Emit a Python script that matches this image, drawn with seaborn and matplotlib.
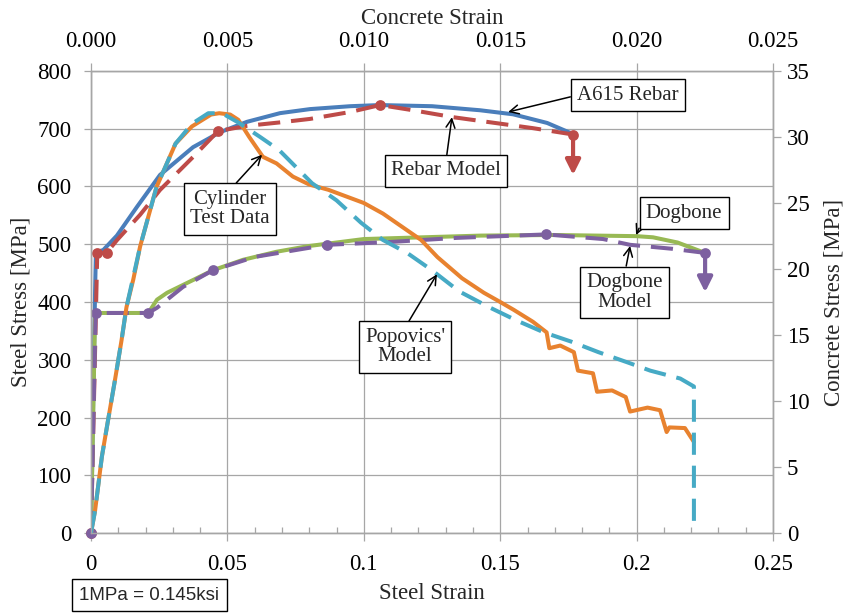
import matplotlib
matplotlib.use("Agg")
import matplotlib.pyplot as plt
import seaborn as sns
from matplotlib.ticker import MultipleLocator, FuncFormatter

# ---- steel data (bottom / left axes) ----
rebar_strain = [0, 0.0015, 0.0018, 0.0045, 0.0095, 0.0169, 0.0253, 0.0374, 0.0473, 0.0572,
                0.0693, 0.0803, 0.0950, 0.1059, 0.1250, 0.1426, 0.1547, 0.1672, 0.1756]
rebar_stress = [0, 420, 486, 490, 515, 565, 620, 668, 694, 712,
                727, 734, 739, 741, 739, 732, 725, 710, 693]

rebar_model_strain = [0, 0.0023, 0.0057, 0.0095, 0.018, 0.0253, 0.0374, 0.0466, 0.0572, 0.0693,
                      0.0803, 0.095, 0.1060, 0.118, 0.1327, 0.145, 0.162, 0.1767]
rebar_model_stress = [0, 485, 485, 507, 551, 594, 651, 696, 705, 711,
                      717, 729, 741, 732, 720, 712, 701, 690]
rebar_model_marks = [0, 1, 2, 7, 12, 17]

dogbone_strain = [0, 0.0015, 0.021, 0.0242, 0.0279, 0.0374, 0.0447, 0.0557, 0.068, 0.080,
                  0.100, 0.143, 0.170, 0.200, 0.206, 0.215, 0.2245]
dogbone_stress = [0, 381, 381, 404, 416, 438, 455, 473, 487, 497,
                  509, 515, 516, 514, 512, 503, 486]

dogbone_model_strain = [0, 0.0017, 0.021, 0.0242, 0.0337, 0.0447, 0.060, 0.0865, 0.110, 0.134,
                        0.1668, 0.1877, 0.1976, 0.2133, 0.2251]
dogbone_model_stress = [0, 381, 381, 390, 426, 455, 478, 499, 504, 511,
                        517, 509, 499, 492, 485]
dogbone_model_marks = [0, 1, 2, 5, 7, 10, 14]

# ---- concrete data (top / right axes) ----
cyl_strain = [0, 0.00015, 0.0004, 0.00063, 0.00088, 0.00112, 0.0013, 0.00155, 0.0018, 0.0024,
              0.0031, 0.0037, 0.0044, 0.0047, 0.0051, 0.0054, 0.0058, 0.0063, 0.0068, 0.0074,
              0.0080, 0.0087, 0.0100, 0.0107, 0.0114, 0.0121, 0.0127, 0.0136, 0.0144, 0.0150,
              0.0155, 0.0162, 0.0167, 0.0168, 0.0172, 0.0177, 0.01785, 0.0184, 0.01855, 0.0191,
              0.0196, 0.01976, 0.0204, 0.02086, 0.0211, 0.0212, 0.02177, 0.0221]
cyl_stress = [0, 1.7, 5.8, 8.6, 11.6, 14.6, 17.1, 19.2, 21.7, 26.2,
              29.5, 30.8, 31.7, 31.8, 31.7, 31.3, 30.0, 28.5, 28.0, 27.0,
              26.4, 26.0, 25.0, 24.2, 23.2, 22.2, 20.9, 19.3, 18.2, 17.5,
              16.9, 16.0, 15.2, 14.0, 14.2, 13.7, 12.3, 12.1, 10.7, 10.8,
              10.3, 9.2, 9.5, 9.3, 7.65, 8.0, 7.95, 6.9]

popovics_strain = [0, 0.00015, 0.0004, 0.00063, 0.00088, 0.00112, 0.0013, 0.0018, 0.0024, 0.0031,
                   0.0037, 0.0043, 0.0048, 0.0054, 0.0062, 0.0069, 0.0081, 0.0090, 0.0099, 0.0107,
                   0.0116, 0.0125, 0.0135, 0.0146, 0.0156, 0.0166, 0.0176, 0.0186, 0.0197, 0.0205,
                   0.0216, 0.0221, 0.0221]
popovics_stress = [0, 1.7, 5.8, 8.6, 11.6, 14.6, 17.1, 21.7, 26.2, 29.5,
                   31.0, 31.8, 31.8, 31.1, 30.0, 29.0, 26.5, 25.2, 23.5, 22.2,
                   21.2, 19.9, 18.3, 17.1, 16.1, 15.2, 14.5, 13.7, 12.9, 12.3,
                   11.7, 11.1, 0.4]

rebar_drop = 70      # length of end-of-test arrows [MPa]
dogbone_drop = 68

# colours
c_blue, c_red, c_green = "#4A7EBB", "#BE4B48", "#98B954"
c_purple, c_teal, c_orange = "#7D60A0", "#46AAC5", "#E8822F"
grid_c = "#A6A6A6"

sns.set_style("white", {"axes.edgecolor": grid_c, "xtick.color": grid_c, "ytick.color": grid_c})
plt.rcParams["font.family"] = ["Liberation Serif", "DejaVu Serif"]
plt.rcParams["lines.solid_capstyle"] = "round"
plt.rcParams["lines.solid_joinstyle"] = "round"

fig = plt.figure(figsize=(8.48, 6.14), dpi=100)
ax = fig.add_axes([0.1073, 0.1319, 0.8043, 0.7525])
ax2 = ax.twinx()
ax3 = ax2.twiny()

lw = 2.9
dash = (0, (5.5, 2.7))

# steel curves
sns.lineplot(x=rebar_strain, y=rebar_stress, ax=ax, color=c_blue, lw=lw, sort=False, estimator=None)
sns.lineplot(x=rebar_model_strain, y=rebar_model_stress, ax=ax, color=c_red, lw=lw,
             linestyle=dash, sort=False, estimator=None)
sns.scatterplot(x=[rebar_model_strain[i] for i in rebar_model_marks],
                y=[rebar_model_stress[i] for i in rebar_model_marks],
                ax=ax, color=c_red, s=60, linewidth=0, clip_on=False, zorder=4)
sns.lineplot(x=dogbone_strain, y=dogbone_stress, ax=ax, color=c_green, lw=lw, sort=False, estimator=None)
sns.lineplot(x=dogbone_model_strain, y=dogbone_model_stress, ax=ax, color=c_purple, lw=lw,
             linestyle=dash, sort=False, estimator=None)
sns.scatterplot(x=[dogbone_model_strain[i] for i in dogbone_model_marks],
                y=[dogbone_model_stress[i] for i in dogbone_model_marks],
                ax=ax, color=c_purple, s=60, linewidth=0, clip_on=False, zorder=4)

# end-of-test arrows
for xs, ys, drop, col in [(rebar_model_strain, rebar_model_stress, rebar_drop, c_red),
                          (dogbone_model_strain, dogbone_model_stress, dogbone_drop, c_purple)]:
    ax.annotate("", xy=(xs[-1], ys[-1] - drop), xytext=(xs[-1], ys[-1]),
                arrowprops=dict(arrowstyle="-|>", color=col, lw=3, mutation_scale=22,
                                shrinkA=0, shrinkB=0))

# concrete curves
sns.lineplot(x=cyl_strain, y=cyl_stress, ax=ax3, color=c_orange, lw=lw, sort=False, estimator=None)
sns.lineplot(x=popovics_strain, y=popovics_stress, ax=ax3, color=c_teal, lw=lw,
             linestyle=dash, sort=False, estimator=None)

# axes limits / ticks
ax.set_xlim(0, 0.25)
ax.set_ylim(0, 800)
ax3.set_xlim(0, 0.025)
ax2.set_ylim(0, 35)

ax.xaxis.set_major_locator(MultipleLocator(0.05))
ax.xaxis.set_minor_locator(MultipleLocator(0.01))
ax.xaxis.set_major_formatter(FuncFormatter(lambda v, p: f"{v:g}"))
ax.yaxis.set_major_locator(MultipleLocator(100))
ax.grid(True, which="major", color=grid_c, lw=0.9)
ax.set_axisbelow(True)
ax.tick_params(axis="x", which="major", direction="out", length=6, width=0.9, labelsize=16.5,
               pad=9, labelcolor="black", bottom=True)
ax.tick_params(axis="x", which="minor", direction="in", length=4, width=0.9, bottom=True)
ax.tick_params(axis="y", direction="out", length=5, width=0.9, labelsize=16.5, pad=9,
               labelcolor="black", left=True)

ax2.yaxis.set_major_locator(MultipleLocator(5))
ax2.tick_params(axis="y", direction="out", length=6, width=0.9, labelsize=16.5, pad=4,
                labelcolor="black", right=True)
ax3.xaxis.set_major_locator(MultipleLocator(0.005))
ax3.xaxis.set_major_formatter(FuncFormatter(lambda v, p: f"{v:.3f}"))
ax3.tick_params(axis="x", direction="out", length=6, width=0.9, labelsize=16.5, pad=8,
                labelcolor="black", top=True)
for a in (ax, ax2, ax3):
    for s in a.spines.values():
        s.set_color(grid_c)
        s.set_linewidth(0.9)
ax3.grid(False)
ax2.grid(False)

ax.set_xlabel("Steel Strain", fontsize=16.5, labelpad=6)
ax.set_ylabel("Steel Stress [MPa]", fontsize=16.5, labelpad=4)
ax2.set_ylabel("Concrete Stress [MPa]", fontsize=16.5, labelpad=10)
ax3.set_xlabel("Concrete Strain", fontsize=16.5, labelpad=5)

# callouts (positions in steel coordinates)
box = dict(boxstyle="square,pad=0.3", fc="white", ec="black", lw=1)
arrow = dict(arrowstyle="->", color="black", lw=1.1, mutation_scale=16, shrinkA=0, shrinkB=0)
callouts = [
    ("A615 Rebar", (0.1529, 729), (0.1968, 758), (0, 0.5)),
    ("Rebar Model", (0.1323, 720), (0.1301, 627), (0.5, 1)),
    ("Cylinder\nTest Data", (0.0627, 655), (0.0510, 561), (0.5, 1)),
    ("Dogbone", (0.1998, 516), (0.2174, 554), (0, 0.5)),
    ("Dogbone\nModel", (0.1976, 497), (0.1957, 417), (0.5, 1)),
    ("Popovics'\nModel", (0.1268, 448), (0.1151, 322), (0.5, 1)),
]
for txt, tip, pos, rel in callouts:
    ax3.annotate(txt, xy=tip, xycoords=ax.transData, xytext=pos, textcoords=ax.transData,
                 ha="center", va="center", fontsize=15, linespacing=1.05, bbox=box,
                 arrowprops=dict(arrow, relpos=rel), zorder=10)

fig.text(149 / 848, 1 - 595 / 614, "1MPa = 0.145ksi", ha="center", va="center",
         fontsize=13.5, family=["Liberation Sans", "DejaVu Sans"],
         bbox=dict(boxstyle="square,pad=0.4", fc="white", ec="black", lw=1))

fig.savefig("out.png", dpi=100)
